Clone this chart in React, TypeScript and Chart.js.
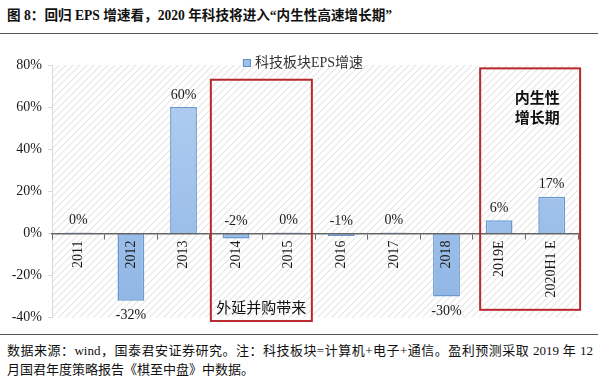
import React, { useEffect, useRef } from "react";
import { Chart, registerables } from "chart.js";

Chart.register(...registerables);

const titleText = "图 8：回归 EPS 增速看，2020 年科技将进入“内生性高速增长期”";
const seriesName = "科技板块EPS增速";
const categories = ["2011", "2012", "2013", "2014", "2015", "2016", "2017", "2018", "2019E", "2020H1 E"];
const epsGrowth = [0.4, -32, 60, -2.4, 0.4, -1.2, 0.4, -30, 6.2, 17.4];
const yTicksMin = -40;
const yTicksMax = 80;
const yTicksStep = 20;
const footerLine1 = "数据来源：wind，国泰君安证券研究。注：科技板块=计算机+电子+通信。盈利预测采取 2019 年 12";
const footerLine2 = "月国君年度策略报告《棋至中盘》中数据。";
const boxLeftLabel = ["外延并购带来"];
const boxRightLabel = ["内生性", "增长期"];

// annotation boxes in data units (category index / percent)
const annotations = [
  { xFrom: 2.52, xTo: 4.44, yTop: 73, yBottom: -41.6, lines: boxLeftLabel, textAt: "bottom", bold: false },
  { xFrom: 7.64, xTo: 9.54, yTop: 78.4, yBottom: -36.3, lines: boxRightLabel, textAt: "top", bold: true },
];

const SERIF = '"Liberation Serif", "Times New Roman", "Noto Sans CJK SC", serif';
const CJK = '"Liberation Serif", "Noto Sans CJK SC", sans-serif';

function makeHatch(): CanvasPattern | string {
  const n = 7;
  const c = document.createElement("canvas");
  c.width = n;
  c.height = n;
  const g = c.getContext("2d");
  if (!g) return "#fff";
  g.fillStyle = "#ffffff";
  g.fillRect(0, 0, n, n);
  g.strokeStyle = "#e6e6e6";
  g.lineWidth = 1.2;
  g.beginPath();
  g.moveTo(0, n);
  g.lineTo(n, 0);
  g.moveTo(-1, 1);
  g.lineTo(1, -1);
  g.moveTo(n - 1, n + 1);
  g.lineTo(n + 1, n - 1);
  g.stroke();
  const p = g.createPattern(c, "repeat");
  return p || "#fff";
}

const customPlugin = {
  id: "customDraw",
  beforeDraw(chart: any) {
    const { ctx, chartArea } = chart;
    ctx.save();
    ctx.fillStyle = makeHatch();
    ctx.fillRect(chartArea.left, chartArea.top, chartArea.right - chartArea.left, chartArea.bottom - chartArea.top);
    ctx.restore();
  },
  afterDatasetsDraw(chart: any) {
    const { ctx } = chart;
    const meta = chart.getDatasetMeta(0);
    const data = chart.data.datasets[0].data as number[];
    const yScale = chart.scales.y;
    const base = yScale.getPixelForValue(0);
    ctx.save();
    ctx.font = `14px ${SERIF}`;
    ctx.fillStyle = "#1a1a1a";
    ctx.textAlign = "center";
    ctx.textBaseline = "middle";
    meta.data.forEach((bar: any, i: number) => {
      const v = data[i];
      const txt = Math.round(v) + "%";
      let y: number;
      if (v < -5) y = bar.y + 15;
      else y = Math.min(bar.y, base) - 12;
      ctx.fillText(txt, bar.x, y);
    });
    ctx.restore();
  },
  afterDraw(chart: any) {
    const { ctx, chartArea } = chart;
    const xs = chart.scales.x;
    const ys = chart.scales.y;
    ctx.save();
    annotations.forEach((a) => {
      const l = xs.getPixelForValue(a.xFrom);
      const r = xs.getPixelForValue(a.xTo);
      const t = ys.getPixelForValue(a.yTop);
      const b = ys.getPixelForValue(a.yBottom);
      ctx.strokeStyle = "#b8282e";
      ctx.lineWidth = 2;
      ctx.strokeRect(l, t, r - l, b - t);
      ctx.fillStyle = "#111";
      ctx.textAlign = "center";
      ctx.textBaseline = "middle";
      ctx.font = `${a.bold ? "bold " : ""}15px "Noto Sans CJK SC", sans-serif`;
      const cx = (l + r) / 2;
      if (a.textAt === "bottom") {
        ctx.fillText(a.lines[0], cx, b - 14);
      } else {
        a.lines.forEach((ln, k) => ctx.fillText(ln, cx + 7, t + 29 + k * 20));
      }
    });
    // legend
    ctx.font = `14px ${CJK}`;
    const tw = ctx.measureText(seriesName).width;
    const total = 8 + 4 + tw;
    const cxc = (chartArea.left + chartArea.right) / 2 - 12;
    const sx = cxc - total / 2;
    const ly = chartArea.top - 2;
    ctx.fillStyle = "#9fc2ea";
    ctx.fillRect(sx, ly - 4, 8, 8);
    ctx.strokeStyle = "#5f8fc8";
    ctx.lineWidth = 1;
    ctx.strokeRect(sx + 0.5, ly - 3.5, 7, 7);
    ctx.fillStyle = "#333";
    ctx.textAlign = "left";
    ctx.textBaseline = "middle";
    ctx.fillText(seriesName, sx + 12, ly);
    ctx.restore();
  },
};

function ChartBox() {
  const ref = useRef<HTMLCanvasElement | null>(null);
  useEffect(() => {
    if (!ref.current) return;
    const chart = new Chart(ref.current, {
      type: "bar",
      data: {
        labels: categories,
        datasets: [
          {
            label: seriesName,
            data: epsGrowth,
            backgroundColor: (c: any) => {
              const chartObj = c.chart;
              const area = chartObj.chartArea;
              if (!area) return "#a3c4ec";
              const g = chartObj.ctx.createLinearGradient(0, area.top, 0, area.bottom);
              g.addColorStop(0, "#b3d0f2");
              g.addColorStop(1, "#8fb5e4");
              return g;
            },
            borderColor: "#6a98cf",
            borderWidth: 1.5,
            barPercentage: 0.51,
            categoryPercentage: 1,
          },
        ],
      },
      options: {
        responsive: false,
        animation: false,
        devicePixelRatio: 1,
        layout: { padding: { left: 0, top: 25, right: 22, bottom: 14 } },
        plugins: { legend: { display: false }, tooltip: { enabled: false } },
        scales: {
          x: {
            position: { y: 0 } as any,
            grid: { offset: true, drawOnChartArea: false, drawTicks: true, tickLength: 5, color: "#666", lineWidth: 1, z: 1 },
            border: { color: "#666", width: 1.5, z: 1 },
            ticks: {
              z: 1,
              autoSkip: false,
              minRotation: 90,
              maxRotation: 90,
              padding: 2,
              color: "#1a1a1a",
              font: { family: SERIF, size: 14 },
            },
          },
          y: {
            min: yTicksMin,
            max: yTicksMax,
            afterFit: (s: any) => {
              s.width = 52;
            },
            grid: { drawOnChartArea: false, drawTicks: true, tickLength: 4, color: "#d9d9d9" },
            border: { color: "#d9d9d9", width: 1 },
            ticks: {
              stepSize: yTicksStep,
              padding: 6,
              color: "#1a1a1a",
              font: { family: SERIF, size: 14 },
              callback: (v: any) => v + "%",
            },
          },
        },
      },
      plugins: [customPlugin],
    });
    return () => chart.destroy();
  }, []);
  return <canvas ref={ref} width={600} height={292} style={{ display: "block", width: 600, height: 292 }} />;
}

export default function App() {
  return (
    <div style={{ position: "fixed", left: 0, top: 0, width: 600, height: 380, background: "#fff", overflow: "hidden" }}>
      <div
        style={{
          position: "absolute",
          left: 7,
          top: 6,
          fontFamily: CJK,
          fontWeight: "bold",
          fontSize: 13.6,
          color: "#111",
          whiteSpace: "nowrap",
          lineHeight: "20px",
        }}
      >
        {titleText}
      </div>
      <div style={{ position: "absolute", left: 0, top: 33, width: 598, height: 0, borderTop: "1.5px solid #555" }} />
      <div style={{ position: "absolute", left: 0, top: 40 }}>
        <ChartBox />
      </div>
      <div style={{ position: "absolute", left: 0, top: 334, width: 598, height: 0, borderTop: "1.5px solid #555" }} />
      <div
        style={{
          position: "absolute",
          left: 7,
          top: 341,
          width: 586,
          fontFamily: CJK,
          fontSize: 13,
          color: "#111",
          lineHeight: "19px",
        }}
      >
        <div style={{ textAlign: "justify", textAlignLast: "justify" as any, whiteSpace: "nowrap" }}>{footerLine1}</div>
        <div style={{ whiteSpace: "nowrap" }}>{footerLine2}</div>
      </div>
    </div>
  );
}
